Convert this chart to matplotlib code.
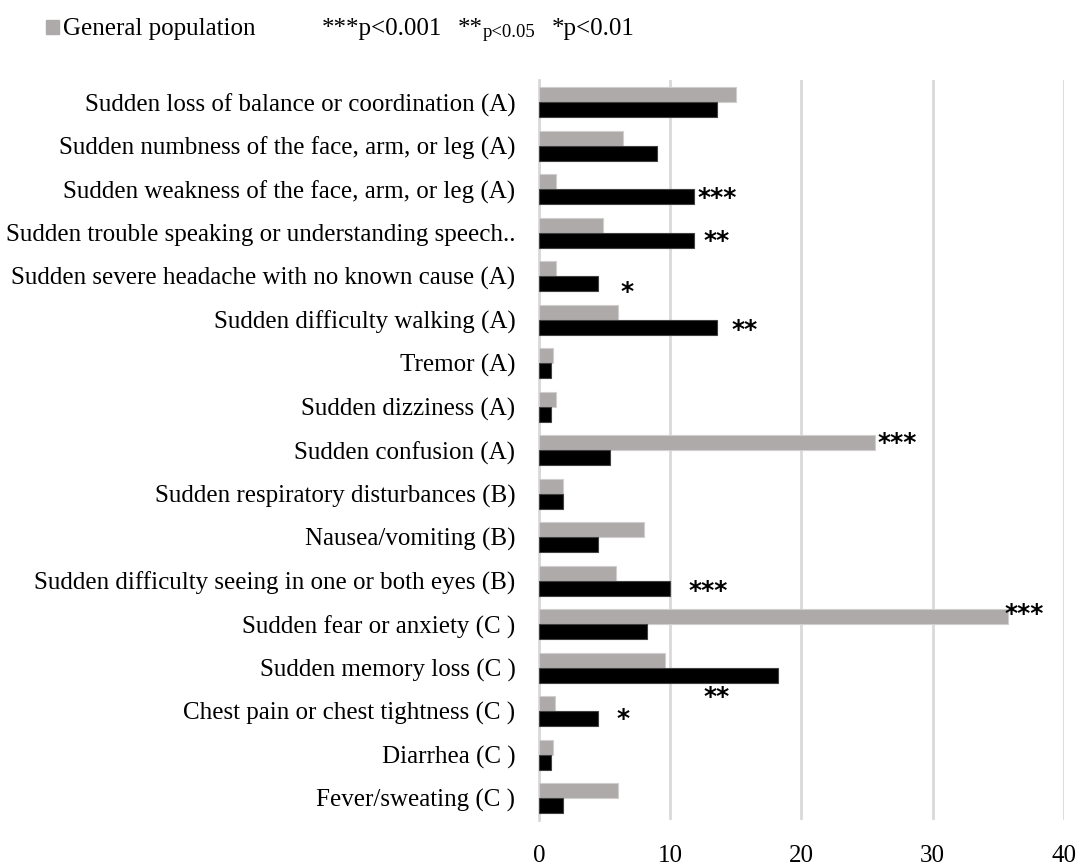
import matplotlib.pyplot as plt
from matplotlib.patches import Rectangle

plt.rcParams['font.family'] = ['Liberation Serif', 'DejaVu Serif']

symptoms = [
    'Sudden loss of balance or coordination (A)',
    'Sudden numbness of the face, arm, or leg (A)',
    'Sudden weakness of the face, arm, or leg (A)',
    'Sudden trouble speaking or understanding speech..',
    'Sudden severe headache with no known cause (A)',
    'Sudden difficulty walking (A)',
    'Tremor (A)',
    'Sudden dizziness (A)',
    'Sudden confusion (A)',
    'Sudden respiratory disturbances (B)',
    'Nausea/vomiting (B)',
    'Sudden difficulty seeing in one or both eyes (B)',
    'Sudden fear or anxiety (C )',
    'Sudden memory loss (C )',
    'Chest pain or chest tightness (C )',
    'Diarrhea (C )',
    'Fever/sweating (C )',
]
general = [15.0, 6.4, 1.3, 4.9, 1.3, 6.0, 1.1, 1.3, 25.6, 1.85, 8.0, 5.85,
           35.7, 9.6, 1.2, 1.1, 6.0]
patients = [13.6, 9.0, 11.8, 11.8, 4.5, 13.6, 0.9, 0.9, 5.4, 1.8, 4.5, 10.0,
            8.2, 18.2, 4.5, 0.9, 1.8]

# significance marks and where they sit (x value, row position)
stars = ['***', '**', '*', '**', '***', '***', '***', '**', '*']
star_pos = [(12.06, 2.16), (12.52, 3.16), (6.18, 4.32), (14.63, 5.21),
            (25.78, 7.79), (11.4, 11.2), (35.44, 11.72), (12.5, 13.63),
            (5.93, 14.13)]

xticks = [0, 10, 20, 30, 40]

fig = plt.figure(figsize=(10.78, 8.64), dpi=100)
ax = fig.add_axes([0.5, 0.051, 0.487, 0.856])

rows = list(range(len(symptoms)))
h = 0.345
gray = '#aeaaaa'
ax.barh([r - h / 2 for r in rows], general, height=h, color=gray,
        edgecolor='#d0cece', linewidth=0.8, zorder=3)
ax.barh([r + h / 2 for r in rows], patients, height=h, color='black',
        edgecolor='#404040', linewidth=0.8, zorder=3)

# asterisks drawn on their baseline so the glyph centre lands on the row
for s, (x, y) in zip(stars, star_pos):
    ax.text(x, y + 0.2, s, fontsize=18, family='DejaVu Sans', weight='bold',
            ha='left', va='baseline', zorder=4)

ax.set_ylim(len(symptoms) - 0.5, -0.5)
ax.set_xlim(0, 40)
ax.set_yticks(rows)
ax.set_yticklabels(symptoms, fontsize=18)
ax.set_xticks(xticks)
ax.set_xticklabels([str(t) for t in xticks], fontsize=18)
ax.tick_params(axis='both', length=0)
ax.tick_params(axis='y', pad=17)
ax.tick_params(axis='x', pad=18)
ax.xaxis.grid(True, color='#d9d9d9', linewidth=2, zorder=0)
for side in ['top', 'right', 'bottom']:
    ax.spines[side].set_visible(False)
ax.spines['left'].set_color('#d9d9d9')
ax.spines['left'].set_linewidth(2)

# legend row at the top
base = 1 - 35 / 864
fig.patches.append(Rectangle((46 / 1078, 1 - 34 / 864), 13 / 1078, 14 / 864,
                             transform=fig.transFigure, color=gray))
fig.text(63 / 1078, base, 'General population', fontsize=18, va='baseline')
fig.text(322 / 1078, base, '***p<0.001', fontsize=18, va='baseline')
fig.text(458 / 1078, base, '**', fontsize=18, va='baseline')
fig.text(483 / 1078, 1 - 37 / 864, 'p<0.05', fontsize=13.5, va='baseline')
fig.text(552 / 1078, base, '*p<0.01', fontsize=18, va='baseline')

fig.savefig('out.png', dpi=100)
